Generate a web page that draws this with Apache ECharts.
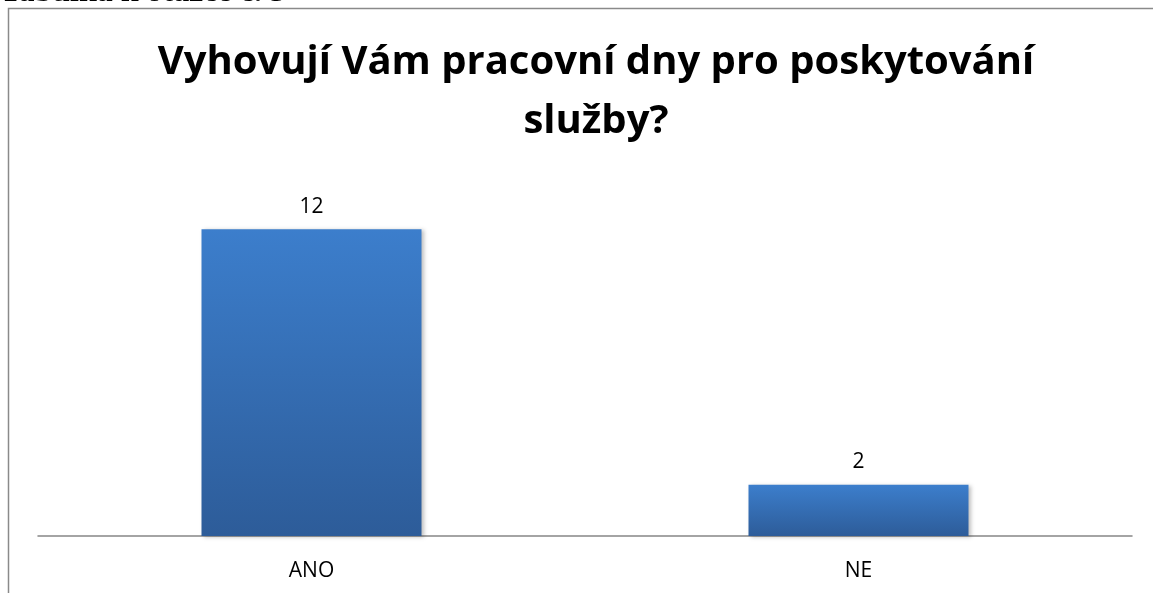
<!DOCTYPE html>
<html style="height: 100%">
<head>
<meta charset="utf-8">
<script src="https://cdn.jsdelivr.net/npm/echarts@6/dist/echarts.min.js"></script>
</head>
<body style="height: 100%; margin: 0; background: #fff">
<div id="container" style="width: 1153px; height: 593px"></div>
<script type="text/javascript">
var categories = ['ANO', 'NE'];
var values = [12, 2];

var chart = echarts.init(document.getElementById('container'));
var option = {
    backgroundColor: '#fff',
    animation: false,
    title: {
        text: 'Vyhovují Vám pracovní dny pro poskytování\nslužby?',
        left: 591,
        textAlign: 'center',
        top: 28,
        textStyle: {
            fontFamily: 'Open Sans',
            fontWeight: 'bold',
            fontSize: 40,
            lineHeight: 59,
            color: '#000'
        }
    },
    graphic: [
        {
            type: 'rect',
            shape: { x: 8.5, y: 8.5, width: 1200, height: 700 },
            style: { fill: null, stroke: '#8a8a8a', lineWidth: 1.5 },
            z: 0
        },
        {
            type: 'text',
            x: 0,
            y: 9,
            style: {
                text: 'Tabulka k otázce č. 5',
                font: 'bold 32px "Liberation Serif"',
                fill: '#000',
                verticalAlign: 'bottom'
            }
        }
    ],
    grid: { left: 38, right: 21, top: 178, bottom: 57 },
    xAxis: {
        type: 'category',
        data: categories,
        axisTick: { show: false },
        axisLine: { lineStyle: { color: '#868686', width: 1.5 } },
        axisLabel: {
            color: '#000',
            fontFamily: 'Open Sans',
            fontSize: 21,
            margin: 25
        }
    },
    yAxis: {
        type: 'value',
        min: 0,
        max: 14,
        show: false,
        splitLine: { show: false }
    },
    series: [{
        type: 'bar',
        data: values,
        barWidth: 220,
        label: {
            show: true,
            position: 'top',
            distance: 12,
            color: '#000',
            fontFamily: 'Open Sans',
            fontSize: 21
        },
        itemStyle: {
            color: new echarts.graphic.LinearGradient(0, 0, 0, 1, [
                { offset: 0, color: '#3c7ecc' },
                { offset: 1, color: '#2d5c99' }
            ]),
            shadowColor: 'rgba(0,0,0,0.25)',
            shadowBlur: 4,
            shadowOffsetX: 2,
            shadowOffsetY: 1
        }
    }]
};
chart.setOption(option);
</script>
</body>
</html>
